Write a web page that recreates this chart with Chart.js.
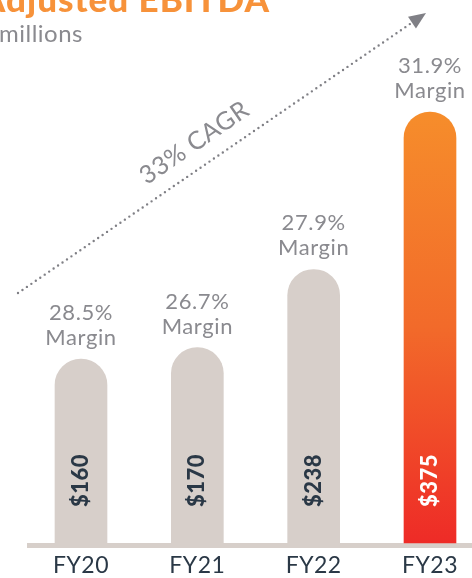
<!DOCTYPE html>
<html>
<head>
<meta charset="utf-8">
<script src="https://cdn.jsdelivr.net/npm/chart.js@4.4.0/dist/chart.umd.min.js"></script>
<style>
  html, body { margin: 0; padding: 0; background: #fff; overflow: hidden; }
  #wrap { width: 472px; height: 578px; position: relative; }
</style>
</head>
<body>
<div id="wrap"><canvas id="ebitdaChart"></canvas></div>
<script>
// values
const categories = ['FY20', 'FY21', 'FY22', 'FY23'];
const ebitda = [160, 170, 238, 375];
const margins = ['28.5%', '26.7%', '27.9%', '31.9%'];
const cagrText = '33% CAGR';

const GRAY_BAR = '#d7cfca';
const GRAY_TEXT = '#8a8a8f';
const NAVY = '#2a3846';

function barColor(c) {
  if (c.dataIndex !== 3) return GRAY_BAR;
  const area = c.chart.chartArea;
  if (!area) return '#f26b2a';
  const g = c.chart.ctx.createLinearGradient(0, area.top, 0, area.bottom);
  g.addColorStop(0, '#f68d2b');
  g.addColorStop(0.5, '#f26a2a');
  g.addColorStop(1, '#ee2b27');
  return g;
}

// title, axis line, category/margin/value labels, cagr arrow
const slideDecor = {
  id: 'slideDecor',
  beforeDatasetsDraw(chart) {
    const ctx = chart.ctx;
    const area = chart.chartArea;
    ctx.save();
    ctx.fillStyle = GRAY_BAR;
    ctx.fillRect(27, area.bottom, chart.width - 27, 5);

    // title (cut off at the left like the slide)
    ctx.fillStyle = '#f7923a';
    ctx.font = '900 35px Lato';
    ctx.letterSpacing = '1px';
    ctx.textAlign = 'right';
    ctx.textBaseline = 'alphabetic';
    ctx.fillText('Adjusted EBITDA', 270, 12);
    ctx.letterSpacing = '0.5px';
    ctx.fillStyle = GRAY_TEXT;
    ctx.font = '24px Lato';
    ctx.textAlign = 'left';
    ctx.fillText('millions', -1, 42);

    // category labels under the axis
    const xs = chart.scales.x;
    ctx.fillStyle = NAVY;
    ctx.font = '23px Lato';
    ctx.textAlign = 'center';
    chart.data.labels.forEach((lab, i) => {
      ctx.fillText(lab, xs.getPixelForValue(i), area.bottom + 30);
    });
    ctx.letterSpacing = '0px';

    // dotted growth arrow
    const x0 = area.left - 63, y0 = area.top + 181;
    const x1 = area.right - 4, y1 = area.top - 99;
    const ang = Math.atan2(y1 - y0, x1 - x0);
    ctx.strokeStyle = '#808086';
    ctx.fillStyle = '#808086';
    ctx.lineWidth = 2.4;
    ctx.lineCap = 'round';
    ctx.setLineDash([0, 5.4]);
    ctx.beginPath();
    ctx.moveTo(x0, y0);
    ctx.lineTo(x1 - 12 * Math.cos(ang), y1 - 12 * Math.sin(ang));
    ctx.stroke();
    ctx.setLineDash([]);
    ctx.translate(x1, y1);
    ctx.rotate(ang);
    ctx.beginPath();
    ctx.moveTo(0, 0);
    ctx.lineTo(-17, -7);
    ctx.lineTo(-17, 7);
    ctx.closePath();
    ctx.fill();
    ctx.restore();

    ctx.save();
    const mx = 208, my = y0 + (mx - x0) * Math.tan(ang);
    ctx.translate(mx + 16 * Math.sin(ang), my - 16 * Math.cos(ang));
    ctx.rotate(ang);
    ctx.fillStyle = GRAY_TEXT;
    ctx.font = '25px Lato';
    ctx.letterSpacing = '0.5px';
    ctx.textAlign = 'center';
    ctx.textBaseline = 'alphabetic';
    ctx.fillText(cagrText, 0, 0);
    ctx.restore();
  },
  afterDatasetsDraw(chart) {
    const ctx = chart.ctx;
    const bars = chart.getDatasetMeta(0).data;
    bars.forEach((bar, i) => {
      ctx.save();
      ctx.fillStyle = GRAY_TEXT;
      ctx.font = '22px Lato';
      ctx.letterSpacing = '0.6px';
      ctx.textAlign = 'center';
      ctx.textBaseline = 'alphabetic';
      ctx.fillText(margins[i], bar.x, bar.y - 39);
      ctx.fillText('Margin', bar.x, bar.y - 14);

      ctx.translate(bar.x, bar.base - 36);
      ctx.rotate(-Math.PI / 2);
      ctx.fillStyle = i === 3 ? '#ffffff' : NAVY;
      ctx.font = '900 22px Lato';
      ctx.letterSpacing = '0.5px';
      ctx.textAlign = 'left';
      ctx.textBaseline = 'middle';
      ctx.fillText('$' + ebitda[i], 0, 0);
      ctx.restore();
    });
  }
};

function draw() {
  new Chart(document.getElementById('ebitdaChart'), {
    type: 'bar',
    data: {
      labels: categories,
      datasets: [{
        data: ebitda,
        backgroundColor: barColor,
        barThickness: 52,
        borderRadius: { topLeft: 26, topRight: 26, bottomLeft: 0, bottomRight: 0 },
        borderSkipped: 'start',
        clip: false
      }]
    },
    options: {
      responsive: true,
      maintainAspectRatio: false,
      animation: false,
      layout: { padding: { left: 81, right: 42, top: 112, bottom: 35 } },
      plugins: { legend: { display: false }, tooltip: { enabled: false } },
      scales: {
        x: {
          offset: false,
          grid: { display: false, drawTicks: false },
          border: { display: false },
          ticks: { display: false }
        },
        y: { display: false, min: 0, max: 375 }
      }
    },
    plugins: [slideDecor]
  });
}

Promise.all([
  document.fonts.load('22px Lato'),
  document.fonts.load('bold 22px Lato'),
  document.fonts.load('900 22px Lato')
]).then(draw, draw);
</script>
</body>
</html>
